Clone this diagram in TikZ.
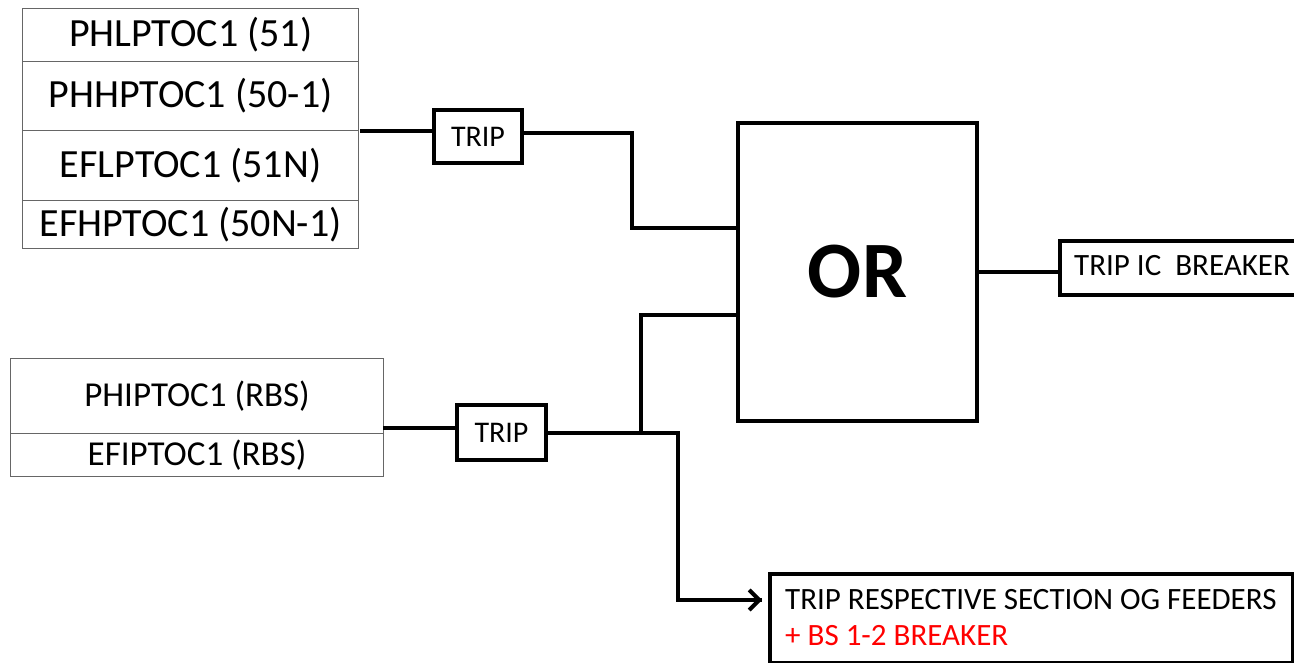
\documentclass[tikz,border=0pt]{standalone}
\usepackage{fontspec}
\setmainfont{Carlito}
\usetikzlibrary{arrows.meta}
\tikzset{
  cell/.style={draw=black!60, line width=1.2pt, minimum width=#1, inner sep=0pt, anchor=north west},
  wire/.style={line width=4pt, line cap=butt, line join=miter},
  tripbox/.style={draw, line width=4pt, inner sep=0pt, font=\fontsize{30}{34}\selectfont},
}
\begin{document}
\begin{tikzpicture}[x=1pt,y=-1pt]
\useasboundingbox (0,0) rectangle (1294,663);
% top table
\begin{scope}[font=\fontsize{40}{44}\selectfont]
\node[cell=336pt, minimum height=53pt]  (t1) at (22,8)   {PHLPTOC1 (51)};
\node[cell=336pt, minimum height=69pt]  (t2) at (22,61)  {PHHPTOC1 (50-1)};
\node[cell=336pt, minimum height=70pt]  (t3) at (22,130) {EFLPTOC1 (51N)};
\node[cell=336pt, minimum height=48pt]  (t4) at (22,200) {EFHPTOC1 (50N-1)};
\end{scope}
% bottom table
\begin{scope}[font=\fontsize{35}{40}\selectfont]
\node[cell=373pt, minimum height=75pt]  (b1) at (10,358) {PHIPTOC1 (RBS)};
\node[cell=373pt, minimum height=43pt]  (b2) at (10,433) {EFIPTOC1 (RBS)};
\end{scope}
% trip boxes
\node[tripbox, minimum width=88pt, minimum height=53pt] (trip1) at (478,136.5) {TRIP};
\node[tripbox, minimum width=89pt, minimum height=55pt] (trip2) at (501.5,432.5) {TRIP};
% OR
\node[draw, line width=4.2pt, minimum width=239pt, minimum height=298pt, inner sep=0pt,
      font=\fontsize{80}{84}\selectfont\bfseries] (or) at (857.5,272) {OR};
% outputs
\node[draw, line width=4pt, minimum width=245pt, minimum height=54pt, inner sep=0pt,
      anchor=north west] (ic) at (1058,239) {};
\node[anchor=west, inner sep=0pt, font=\fontsize{31}{35}\selectfont] (ictext) at (1074,266) {TRIP IC\ \ BREAKER};
\node[draw, line width=4pt, minimum width=523pt, minimum height=89pt, inner sep=0pt,
      anchor=north west] (og) at (768,572) {};
\node[anchor=west, inner sep=0pt, font=\fontsize{31}{35}\selectfont] (og1) at (785,600) {TRIP RESPECTIVE SECTION OG FEEDERS};
\node[anchor=west, inner sep=0pt, font=\fontsize{31}{35}\selectfont, text=red] (og2) at (785,636) {+ BS 1-2 BREAKER};
% connectors
\coordinate (tout) at (360,131);
\draw[wire] (tout) -- (tout -| trip1.west);
\coordinate (k1) at (632,133);
\draw[wire] (trip1.east |- k1) -- (k1) -- (632,228) -- (or.west |- 0,228);
\draw[wire] (or.east) -- (or.east -| ic.west);
\coordinate (bout) at (383,428);
\draw[wire] (bout) -- (bout -| trip2.west);
\coordinate (j) at (641,433);
\coordinate (k2) at (678,433);
\draw[wire] (trip2.east |- j) -- (k2) -- (678,600)
  -- ([xshift=-6pt]og.west |- 0,600);
\draw[line width=4pt, -{Straight Barb[length=10pt,width=20pt]}] (700,600) -- ([xshift=-6pt]og.west |- 0,600);
\draw[wire] (j) -- (641,315) -- (or.west |- 0,315);
\end{tikzpicture}
\end{document}
